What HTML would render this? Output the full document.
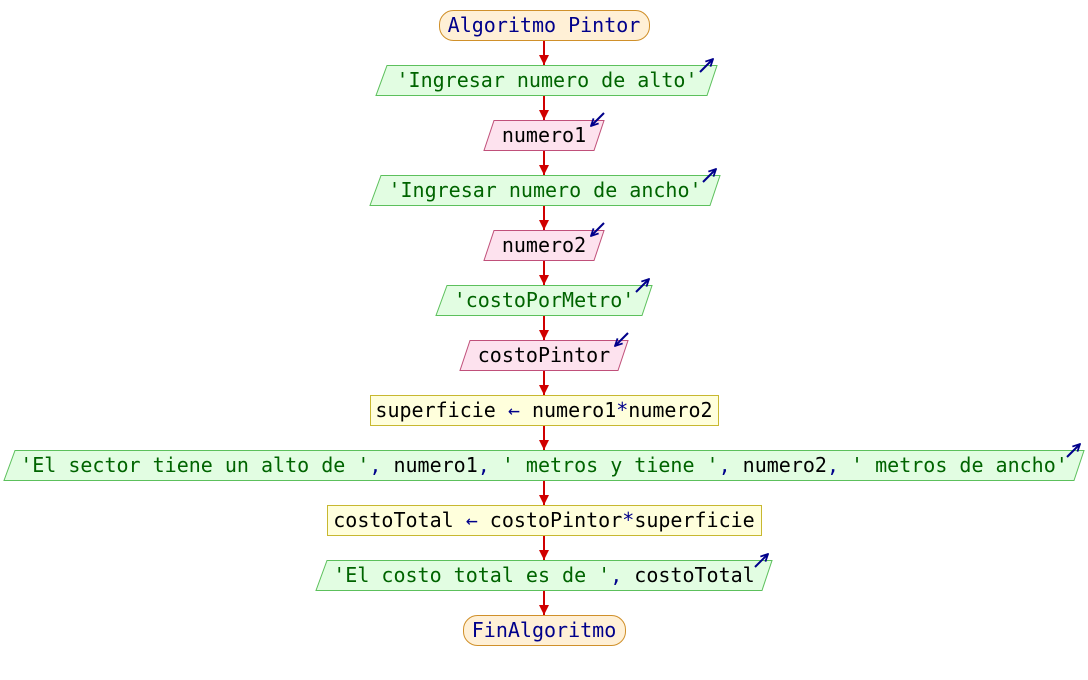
<!DOCTYPE html>
<html><head><meta charset="utf-8"><style>
html,body{margin:0;padding:0;background:#fff;}
svg{display:block;}
text{font-family:"DejaVu Sans Mono","Liberation Mono",monospace;font-size:20px;}
.s{fill:#006400}.c{fill:#00008b}.k{fill:#00008b}.v{fill:#000}
</style></head><body>
<svg width="1088" height="680" viewBox="0 0 1088 680" xmlns="http://www.w3.org/2000/svg">
<defs>
<marker id="ah" viewBox="0 0 10 10" refX="10" refY="5" markerWidth="10" markerHeight="10" markerUnits="userSpaceOnUse" orient="auto"><path d="M0,0L10,5L0,10z" fill="#d00000"/></marker>
<marker id="bh" viewBox="0 0 10 10" refX="9" refY="5" markerWidth="9" markerHeight="9" markerUnits="userSpaceOnUse" orient="auto"><path d="M1,1L9,5L1,9" fill="none" stroke="#00008b" stroke-width="2"/></marker>
</defs>
<g stroke="#d00000" stroke-width="2" marker-end="url(#ah)">
<line x1="544" y1="40" x2="544" y2="65"/>
<line x1="544" y1="95" x2="544" y2="120"/>
<line x1="544" y1="150" x2="544" y2="175"/>
<line x1="544" y1="205" x2="544" y2="230"/>
<line x1="544" y1="260" x2="544" y2="285"/>
<line x1="544" y1="315" x2="544" y2="340"/>
<line x1="544" y1="370" x2="544" y2="395"/>
<line x1="544" y1="425" x2="544" y2="450"/>
<line x1="544" y1="480" x2="544" y2="505"/>
<line x1="544" y1="535" x2="544" y2="560"/>
<line x1="544" y1="590" x2="544" y2="615"/>
</g>
<rect x="439.5" y="10.5" width="210" height="30" rx="14" fill="#fff0d6" stroke="#d0902a"/>
<rect x="463.5" y="615.5" width="162" height="30" rx="14" fill="#fff0d6" stroke="#d0902a"/>
<g fill="#e2fde2" stroke="#5cc05c">
<polygon points="387,65.5 717,65.5 707,95.5 376,95.5"/>
<polygon points="381,175.5 720,175.5 710,205.5 370,205.5"/>
<polygon points="447,285.5 652,285.5 642,315.5 436,315.5"/>
<polygon points="15,450.5 1084,450.5 1074,480.5 4,480.5"/>
<polygon points="327,560.5 772,560.5 762,590.5 316,590.5"/>
</g>
<g fill="#fde2ee" stroke="#c0507a">
<polygon points="494,120.5 604,120.5 594,150.5 484,150.5"/>
<polygon points="494,230.5 604,230.5 594,260.5 484,260.5"/>
<polygon points="470,340.5 628,340.5 618,370.5 460,370.5"/>
</g>
<g fill="#ffffdc" stroke="#c8b830">
<rect x="370.5" y="395.5" width="348" height="30"/>
<rect x="327.5" y="505.5" width="434" height="30"/>
</g>
<g stroke="#00008b" stroke-width="2" marker-end="url(#bh)">
<line x1="700" y1="72" x2="713" y2="59"/>
<line x1="703" y1="182" x2="716" y2="169"/>
<line x1="636" y1="292" x2="649" y2="279"/>
<line x1="1067" y1="457" x2="1080" y2="444"/>
<line x1="755" y1="567" x2="768" y2="554"/>
<line x1="604" y1="113" x2="591" y2="126"/>
<line x1="604" y1="223" x2="591" y2="236"/>
<line x1="628" y1="333" x2="615" y2="346"/>
</g>
<g text-anchor="middle">
<text x="544" y="32" class="k">Algoritmo Pintor</text>
<text x="547" y="87" class="s">'Ingresar numero de alto'</text>
<text x="544" y="142" class="v">numero1</text>
<text x="545" y="197" class="s">'Ingresar numero de ancho'</text>
<text x="544" y="252" class="v">numero2</text>
<text x="544" y="307" class="s">'costoPorMetro'</text>
<text x="544" y="362" class="v">costoPintor</text>
<text x="544" y="417" class="v">superficie <tspan class="c">←</tspan> numero1<tspan class="c">*</tspan>numero2</text>
<text x="544" y="472" class="s">'El sector tiene un alto de '<tspan class="c">,</tspan><tspan class="v"> numero1</tspan><tspan class="c">,</tspan> ' metros y tiene '<tspan class="c">,</tspan><tspan class="v"> numero2</tspan><tspan class="c">,</tspan> ' metros de ancho'</text>
<text x="544" y="527" class="v">costoTotal <tspan class="c">←</tspan> costoPintor<tspan class="c">*</tspan>superficie</text>
<text x="544" y="582" class="s">'El costo total es de '<tspan class="c">,</tspan><tspan class="v"> costoTotal</tspan></text>
<text x="544" y="637" class="k">FinAlgoritmo</text>
</g>
</svg>
</body></html>
